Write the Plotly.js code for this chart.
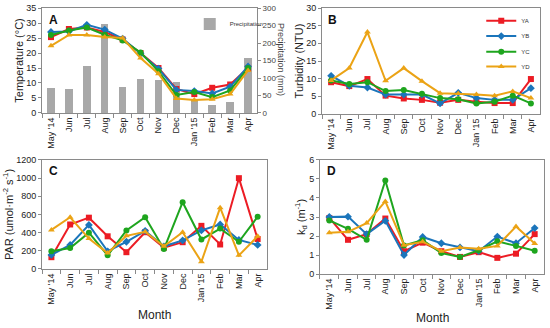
<!DOCTYPE html>
<html><head><meta charset="utf-8">
<script src="https://cdn.plot.ly/plotly-3.0.1.min.js"></script>
<style>html,body{margin:0;padding:0;background:#fff}#c{width:550px;height:328px}</style>
</head><body><div id="c"></div>
<script>
const months = ["May '14","Jun","Jul","Aug","Sep","Oct","Nov","Dec","Jan '15","Feb","Mar","Apr"];
const siteNames = ["YA","YB","YC","YD"];
const precip = [71,69,135,255,74,98,95,89,40,23,32,158];
const tempYA = [25.3,28,28.5,27,24.5,20,15,8,6.3,8.4,9.5,15];
const tempYB = [27,27.2,29.4,27.8,24.8,19.8,14.8,7.7,7.3,6.5,8.8,15.5];
const tempYC = [26,27.5,28.5,26.1,24.2,20.2,13.9,6,7,5.3,7.5,15];
const tempYD = [22.4,26,26,25.3,25,18.3,13.1,4.8,4.3,4.6,6.3,14.2];
const turbYA = [9,7.9,9.9,5.2,4.4,4,3.2,4,3.5,3.1,3.1,9.9];
const turbYB = [10.8,8,7.5,5.5,5.5,5.5,3,6,4.5,4,4,7.3];
const turbYC = [9.5,8.5,9,6.5,6.8,5.7,4.5,4.2,3,3.5,5.2,3];
const turbYD = [9.5,13,23.2,9.4,13,9.3,5.9,5.8,5.5,5.2,6.4,4.5];
const parYA = [130,490,565,360,185,405,235,295,475,270,1000,330];
const parYB = [155,265,485,195,300,420,250,315,425,490,320,265];
const parYC = [195,230,400,150,425,570,220,735,325,445,300,575];
const parYD = [430,570,335,175,365,410,250,405,80,675,150,360];
const kdYA = [2.95,1.8,2.1,2.92,1.2,1.65,1.2,0.9,1.15,0.85,1.07,2.1];
const kdYB = [3.0,3.02,2.1,2.8,1.0,1.95,1.62,1.4,1.2,1.97,1.62,2.42];
const kdYC = [2.82,2.38,1.8,4.92,1.5,1.78,1.1,0.9,1.25,1.72,1.48,1.22];
const kdYD = [2.17,2.22,2.68,3.82,1.52,1.7,1.2,1.4,1.33,1.48,2.5,1.6];

const colors = ['#ec1c24','#1b75bb','#1ea51e','#eba315'];
const symbols = ['square','diamond','circle','triangle-up'];
const FONT = 'Liberation Sans, Arial, sans-serif';
const legendIds = ['legend2','legend3','legend4','legend5'];

const traces = [];
traces.push({type:'bar', x:months, y:precip, xaxis:'x', yaxis:'y', name:'Precipitation',
  marker:{color:'#a8a8a8'}, width:0.42, legend:'legend', showlegend:true});

function addSet(data, xa, ya, showLeg){
  data.forEach((d,i)=>{
    traces.push({type:'scatter', mode:'lines+markers', x:months, y:d, xaxis:xa, yaxis:ya,
      name:siteNames[i], line:{color:colors[i], width:2},
      marker:{color:colors[i], symbol:symbols[i], size:6},
      legend:legendIds[i], showlegend:showLeg});
  });
}
addSet([tempYA,tempYB,tempYC,tempYD],'x','y2',false);
addSet([turbYA,turbYB,turbYC,turbYD],'x2','y3',true);
addSet([parYA,parYB,parYC,parYD],'x3','y4',false);
addSet([kdYA,kdYB,kdYC,kdYD],'x4','y5',false);

const lc = '#8a8a8a';
function xax(dom, anchor){
  return {domain:dom, anchor:anchor, type:'category', range:[-0.5,11.5],
    tickangle:-90, tickson:'boundaries', ticks:'outside', ticklen:4, tickcolor:lc,
    showline:true, linecolor:lc, linewidth:1, mirror:true, showgrid:false, zeroline:false,
    tickfont:{size:9, family:FONT, color:'#222'}};
}
function yax(dom, anchor, range, dtick, title, extra){
  const a = {domain:dom, anchor:anchor, range:range, dtick:dtick, ticks:'outside', ticklen:3,
    tickcolor:lc, showline:true, linecolor:lc, linewidth:1, mirror:true, showgrid:false,
    zeroline:false, tickfont:{size:9, family:FONT, color:'#222'},
    title:{text:title, font:{size:11, family:FONT, color:'#222'}, standoff:0}};
  return Object.assign(a, extra||{});
}
function leg(yc){
  return {x:0.875, y:yc, xanchor:'left', yanchor:'middle', bgcolor:'rgba(0,0,0,0)',
    font:{size:6, family:FONT, color:'#333'}, itemwidth:30};
}

const layout = {
  width:550, height:328, margin:{l:0,r:0,t:0,b:0}, paper_bgcolor:'#fff', plot_bgcolor:'#fff',
  font:{family:FONT}, bargap:0,
  xaxis: xax([0.0764,0.4673],'y'),
  yaxis: {domain:[0.6555,0.9756], anchor:'x', side:'right', range:[0,300], dtick:50,
    ticks:'outside', ticklen:3, tickcolor:lc, showline:true, linecolor:lc, showgrid:false, zeroline:false,
    tickfont:{size:8, family:FONT, color:'#444'}},
  yaxis2: yax([0.6555,0.9756],'x',[0,35],5,'Temperature (°C)',{overlaying:'y', side:'left', mirror:false}),
  xaxis2: xax([0.5855,0.9818],'y3'),
  yaxis3: yax([0.6524,0.9756],'x2',[0,30],5,'Turbidity (NTU)'),
  xaxis3: xax([0.0764,0.4855],'y4'),
  yaxis4: yax([0.1799,0.5122],'x3',[0,1200],200,'PAR (umol·m<sup>-2</sup> s<sup>-1</sup>)'),
  xaxis4: xax([0.5818,0.9891],'y5'),
  yaxis5: yax([0.1646,0.5122],'x4',[0,6],1,'k<sub>d</sub> (m<sup>-1</sup>)'),
  legend:{x:0.345, y:0.927, xanchor:'left', yanchor:'middle', bgcolor:'rgba(0,0,0,0)',
    font:{size:6, family:FONT, color:'#333'}, itemwidth:30},
  legend2: leg(0.937),
  legend3: leg(0.890),
  legend4: leg(0.842),
  legend5: leg(0.797),
  annotations:[
    {text:'<b>A</b>', xref:'paper', yref:'paper', x:0.085, y:0.965, xanchor:'left', yanchor:'top', showarrow:false, font:{size:12, family:FONT, color:'#111'}},
    {text:'<b>B</b>', xref:'paper', yref:'paper', x:0.593, y:0.965, xanchor:'left', yanchor:'top', showarrow:false, font:{size:12, family:FONT, color:'#111'}},
    {text:'<b>C</b>', xref:'paper', yref:'paper', x:0.085, y:0.505, xanchor:'left', yanchor:'top', showarrow:false, font:{size:12, family:FONT, color:'#111'}},
    {text:'<b>D</b>', xref:'paper', yref:'paper', x:0.59, y:0.505, xanchor:'left', yanchor:'top', showarrow:false, font:{size:12, family:FONT, color:'#111'}},
    {text:'Precipitation (mm)', xref:'paper', yref:'paper', x:0.511, y:0.82, xanchor:'center', yanchor:'middle', textangle:90, showarrow:false, font:{size:9, family:FONT, color:'#444'}},
    {text:'Month', xref:'paper', yref:'paper', x:0.281, y:1-315/328, xanchor:'center', yanchor:'middle', showarrow:false, font:{size:12, family:FONT, color:'#222'}},
    {text:'Month', xref:'paper', yref:'paper', x:0.787, y:1-318/328, xanchor:'center', yanchor:'middle', showarrow:false, font:{size:12, family:FONT, color:'#222'}}
  ]
};
Plotly.newPlot('c', traces, layout, {displayModeBar:false, staticPlot:true});
</script>
</body></html>
